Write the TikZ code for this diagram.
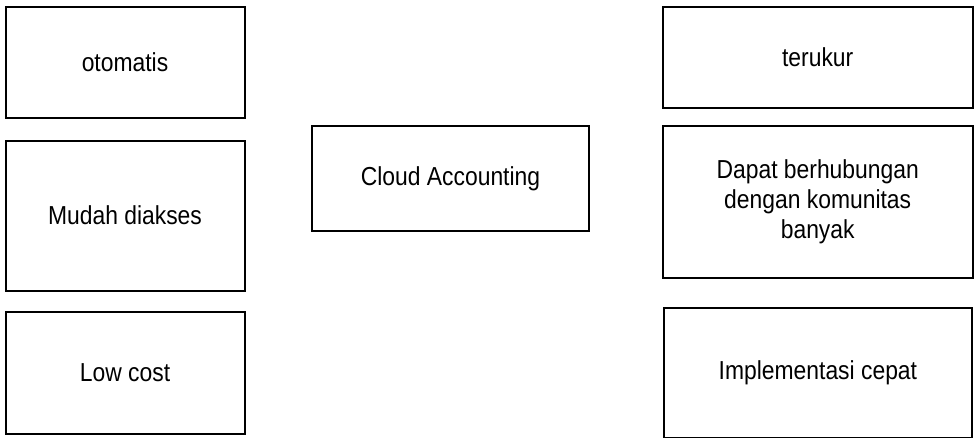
\documentclass[tikz,border=0pt]{standalone}
\usepackage{fontspec}
\setmainfont{Liberation Sans}
\newfontfamily\boxfont[FakeStretch=0.88]{Liberation Sans}
\tikzset{
  box/.style={draw=black, line width=2pt, rectangle, align=center, inner sep=0pt,
    font=\boxfont\fontsize{26}{30}\selectfont, fill=white},
}
\begin{document}
\begin{tikzpicture}[x=1pt,y=-1pt]
\useasboundingbox (0,0) rectangle (975,438);
\node[box, minimum width=239pt, minimum height=111.6pt] (oto) at (125,62.5) {otomatis};
\node[box, minimum width=239pt, minimum height=150pt] (mudah) at (125,215.7) {Mudah diakses};
\node[box, minimum width=239pt, minimum height=122pt] (low) at (125,372.7) {Low cost};
\node[box, minimum width=277pt, minimum height=104.7pt] (cloud) at (450.5,178.3) {Cloud Accounting};
\node[box, minimum width=310pt, minimum height=101.3pt] (ter) at (817.7,57.3) {terukur};
\node[box, minimum width=310pt, minimum height=152pt] (dapat) at (817.7,202) {Dapat berhubungan\\dengan komunitas\\banyak};
\node[box, minimum width=307.7pt, minimum height=129.7pt] (impl) at (817.9,372.8) {Implementasi cepat};
\end{tikzpicture}
\end{document}
